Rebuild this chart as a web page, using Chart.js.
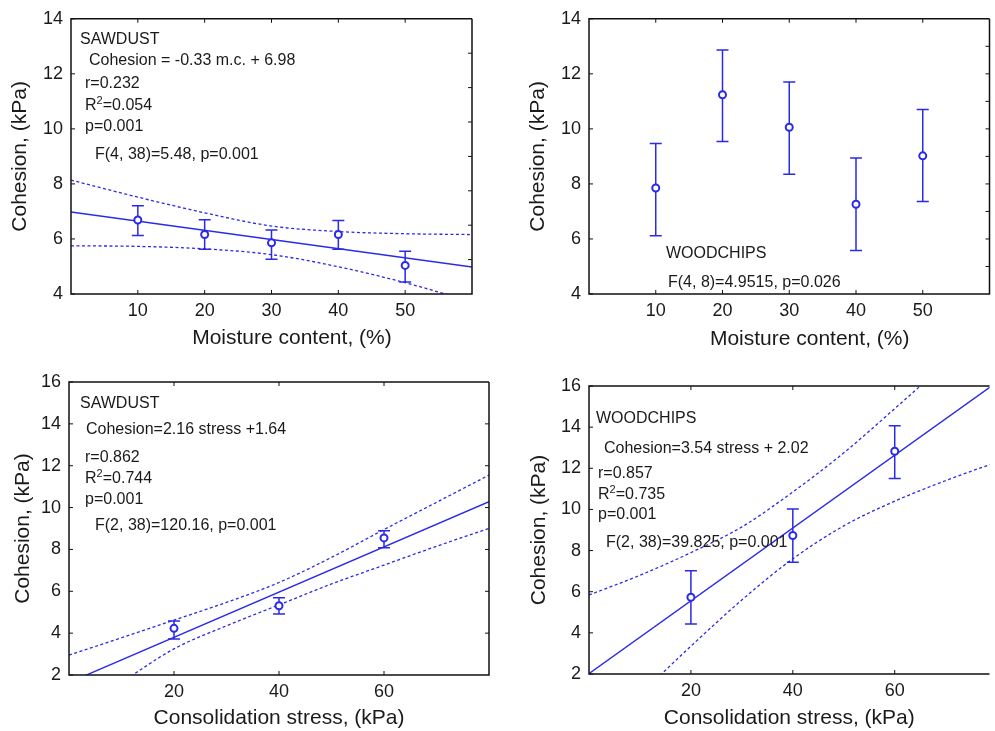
<!DOCTYPE html>
<html>
<head>
<meta charset="utf-8">
<script src="https://cdn.jsdelivr.net/npm/chart.js@4.4.0/dist/chart.umd.min.js"></script>
<style>
  body { margin: 0; background: #fff; width: 995px; height: 731px; position: relative; overflow: hidden;
         font-family: "Liberation Sans", Arial, sans-serif; }
  .box { position: absolute; }
  .note { position: absolute; font-size: 16px; line-height: 18px; color: #1a1a1a; white-space: nowrap; }
  .note sup { font-size: 11px; line-height: 0; vertical-align: 6px; }
</style>
</head>
<body>

<div class="box" style="left:0;top:0"><canvas id="c1" width="497" height="360"></canvas></div>
<div class="box" style="left:518px;top:0"><canvas id="c2" width="477" height="360"></canvas></div>
<div class="box" style="left:0;top:362px"><canvas id="c3" width="497" height="369"></canvas></div>
<div class="box" style="left:518px;top:362px"><canvas id="c4" width="477" height="369"></canvas></div>

<!-- top left -->
<div class="note" style="left:80px;top:30px">SAWDUST</div>
<div class="note" style="left:89px;top:51px">Cohesion = -0.33 m.c. + 6.98</div>
<div class="note" style="left:85px;top:74px">r=0.232</div>
<div class="note" style="left:85px;top:96px">R<sup>2</sup>=0.054</div>
<div class="note" style="left:85px;top:117px">p=0.001</div>
<div class="note" style="left:95px;top:145px">F(4, 38)=5.48, p=0.001</div>
<!-- top right -->
<div class="note" style="left:666px;top:244px">WOODCHIPS</div>
<div class="note" style="left:668px;top:273px">F(4, 8)=4.9515, p=0.026</div>
<!-- bottom left -->
<div class="note" style="left:80px;top:394px">SAWDUST</div>
<div class="note" style="left:86px;top:420px">Cohesion=2.16 stress +1.64</div>
<div class="note" style="left:85px;top:448px">r=0.862</div>
<div class="note" style="left:85px;top:469px">R<sup>2</sup>=0.744</div>
<div class="note" style="left:85px;top:490px">p=0.001</div>
<div class="note" style="left:95px;top:516px">F(2, 38)=120.16, p=0.001</div>
<!-- bottom right -->
<div class="note" style="left:596px;top:409px">WOODCHIPS</div>
<div class="note" style="left:604px;top:439px">Cohesion=3.54 stress + 2.02</div>
<div class="note" style="left:598px;top:464px">r=0.857</div>
<div class="note" style="left:598px;top:485px">R<sup>2</sup>=0.735</div>
<div class="note" style="left:598px;top:505px">p=0.001</div>
<div class="note" style="left:606px;top:533px">F(2, 38)=39.825, p=0.001</div>

<script>
// ---- moisture content panels (top row) ----
var moisture = [10, 20, 30, 40, 50];
var moistureTicks = [10, 20, 30, 40, 50];

var sawMc = [6.69, 6.16, 5.86, 6.16, 5.04];
var sawMcLow = [6.13, 5.63, 5.26, 5.63, 4.44];
var sawMcHigh = [7.21, 6.70, 6.33, 6.67, 5.55];
var sawMcFitX = [0, 60];
var sawMcFitY = [6.98, 4.98];
var sawMcBandX = [0, 10, 20, 30, 40, 50, 60];
var sawMcUpper = [8.14, 7.52, 6.95, 6.47, 6.27, 6.19, 6.16];
var sawMcLower = [5.75, 5.73, 5.64, 5.43, 4.99, 4.41, 3.72];

var chipMc = [7.85, 11.24, 10.06, 7.26, 9.02];
var chipMcLow = [6.12, 9.54, 8.35, 5.58, 7.36];
var chipMcHigh = [9.47, 12.87, 11.70, 8.94, 10.70];

// ---- consolidation stress panels (bottom row) ----
var stress = [20, 40, 60];
var stressTicks = [20, 40, 60];

var sawSt = [4.23, 5.31, 8.55];
var sawStLow = [3.72, 4.91, 8.08];
var sawStHigh = [4.58, 5.69, 8.89];
var sawStFitX = [0, 80];
var sawStFitY = [1.64, 10.28];
var sawStUpperX = [0, 10, 20, 30, 40, 50, 60, 70, 80];
var sawStUpper = [2.95, 3.78, 4.62, 5.47, 6.42, 7.62, 8.95, 10.25, 11.55];
var sawStLowerX = [10, 20, 30, 40, 50, 60, 70, 80];
var sawStLower = [1.65, 3.25, 4.35, 5.35, 6.35, 7.25, 8.15, 9.00];

var chipSt = [5.73, 8.73, 12.83];
var chipStLow = [4.43, 7.43, 11.50];
var chipStHigh = [7.02, 10.02, 14.07];
var chipStFitX = [0, 80];
var chipStFitY = [2.02, 16.18];
var chipStUpperX = [0, 10, 20, 30, 40, 50, 60, 70];
var chipStUpper = [5.84, 6.80, 7.90, 9.15, 10.85, 12.75, 14.90, 17.10];
var chipStLowerX = [10, 20, 30, 40, 50, 60, 70, 80];
var chipStLower = [1.00, 3.35, 5.60, 7.60, 9.20, 10.40, 11.40, 12.30];

// minor ticks on the right hand frame
var rightTicks1 = [5.25, 6.5, 7.75, 9, 10.25, 11.5, 12.75];
var rightTicks2 = [5, 6, 7, 8, 9, 10, 11, 12, 13];
var rightTicks3 = [4, 6, 8, 10, 12, 14];

var BLUE = '#2a2ae8';
var INK = '#1a1a1a';
Chart.defaults.font.family = '"Liberation Sans", Arial, sans-serif';
Chart.defaults.color = INK;

function pts(xs, ys) {
  return xs.map(function (v, i) { return { x: v, y: ys[i] }; });
}

// box round the plot + small inward ticks
var frame = {
  id: 'frame',
  afterDraw: function (chart) {
    var o = chart.options.plugins.frame;
    var a = chart.chartArea, ctx = chart.ctx, x = chart.scales.x, y = chart.scales.y;
    ctx.save();
    ctx.strokeStyle = '#111';
    ctx.lineWidth = 1.5;
    ctx.beginPath();
    ctx.moveTo(a.right, a.top);
    ctx.lineTo(a.left, a.top);
    ctx.lineTo(a.left, a.bottom);
    ctx.lineTo(a.right, a.bottom);
    if (o.rightSide) ctx.lineTo(a.right, a.top);
    ctx.stroke();
    ctx.lineWidth = 1;
    ctx.beginPath();
    x.ticks.forEach(function (t) {
      var px = x.getPixelForValue(t.value);
      ctx.moveTo(px, a.bottom); ctx.lineTo(px, a.bottom - 4);
      ctx.moveTo(px, a.top); ctx.lineTo(px, a.top + 4);
    });
    y.ticks.forEach(function (t) {
      var py = y.getPixelForValue(t.value);
      ctx.moveTo(a.left, py); ctx.lineTo(a.left + 4, py);
    });
    (o.rightTicks || []).forEach(function (v) {
      var py = y.getPixelForValue(v);
      ctx.moveTo(a.right, py); ctx.lineTo(a.right - 4, py);
    });
    ctx.stroke();
    ctx.restore();
  }
};

// vertical error bars with caps, taken from ds.low / ds.high
var errorBars = {
  id: 'errorBars',
  beforeDatasetsDraw: function (chart) {
    var ctx = chart.ctx, x = chart.scales.x, y = chart.scales.y;
    chart.data.datasets.forEach(function (ds) {
      if (!ds.low) return;
      ctx.save();
      ctx.strokeStyle = BLUE;
      ctx.lineWidth = 1.5;
      ctx.beginPath();
      ds.data.forEach(function (p, i) {
        var px = x.getPixelForValue(p.x);
        var lo = y.getPixelForValue(ds.low[i]);
        var hi = y.getPixelForValue(ds.high[i]);
        ctx.moveTo(px, lo); ctx.lineTo(px, hi);
        ctx.moveTo(px - 6, lo); ctx.lineTo(px + 6, lo);
        ctx.moveTo(px - 6, hi); ctx.lineTo(px + 6, hi);
      });
      ctx.stroke();
      ctx.restore();
    });
  }
};

function makePanel(id, p) {
  var sets = [{
    data: pts(p.xs, p.mean), low: p.low, high: p.high,
    showLine: false, pointRadius: 3.5, pointHoverRadius: 3.5, pointBorderWidth: 2,
    pointBorderColor: BLUE, pointBackgroundColor: '#fff'
  }];
  if (p.fit) {
    sets.push({ data: pts(p.fit[0], p.fit[1]), showLine: true, borderColor: BLUE, borderWidth: 1.4, pointRadius: 0 });
    sets.push({ data: pts(p.upper[0], p.upper[1]), showLine: true, borderColor: BLUE, borderWidth: 1.3,
                borderDash: [3, 2.5], pointRadius: 0, cubicInterpolationMode: 'monotone' });
    sets.push({ data: pts(p.lower[0], p.lower[1]), showLine: true, borderColor: BLUE, borderWidth: 1.3,
                borderDash: [3, 2.5], pointRadius: 0, cubicInterpolationMode: 'monotone' });
  }

  return new Chart(document.getElementById(id), {
    type: 'scatter',
    data: { datasets: sets },
    options: {
      responsive: false,
      animation: false,
      events: [],
      layout: { padding: { left: 0, top: p.padTop, right: p.padRight, bottom: 0 } },
      plugins: {
        legend: { display: false },
        tooltip: { enabled: false },
        frame: { rightTicks: p.rightTicks, rightSide: p.rightSide }
      },
      scales: {
        x: {
          type: 'linear', min: p.xMin, max: p.xMax,
          afterBuildTicks: function (s) { s.ticks = p.xTicks.map(function (v) { return { value: v }; }); },
          afterFit: function (s) { s.height = p.xHeight; },
          grid: { display: false, drawTicks: false },
          border: { display: false },
          ticks: { autoSkip: false, maxRotation: 0, padding: 6, color: INK, font: { size: 18 } },
          title: { display: true, text: p.xTitle, color: INK, font: { size: 21 },
                   padding: { top: 0, bottom: p.xTitlePad } }
        },
        y: {
          type: 'linear', min: p.yMin, max: p.yMax,
          afterFit: function (s) { s.width = p.yWidth; },
          grid: { display: false, drawTicks: false },
          border: { display: false },
          ticks: { stepSize: 2, padding: 8, color: INK, font: { size: 18 } },
          title: { display: true, text: 'Cohesion, (kPa)', color: INK, font: { size: 21 },
                   padding: { top: p.yTitlePad, bottom: 0 } }
        }
      }
    },
    plugins: [frame, errorBars]
  });
}

makePanel('c1', {
  xs: moisture, mean: sawMc, low: sawMcLow, high: sawMcHigh,
  fit: [sawMcFitX, sawMcFitY], upper: [sawMcBandX, sawMcUpper], lower: [sawMcBandX, sawMcLower],
  xMin: 0, xMax: 60, xTicks: moistureTicks, yMin: 4, yMax: 14,
  xTitle: '       Moisture content, (%)',
  padTop: 16, padRight: 25, xHeight: 66, yWidth: 71, xTitlePad: 9, yTitlePad: 7.4,
  rightTicks: rightTicks1, rightSide: true
});

makePanel('c2', {
  xs: moisture, mean: chipMc, low: chipMcLow, high: chipMcHigh,
  xMin: 0, xMax: 60, xTicks: moistureTicks, yMin: 4, yMax: 14,
  xTitle: '       Moisture content, (%)',
  padTop: 16, padRight: 3, xHeight: 66, yWidth: 71, xTitlePad: 8, yTitlePad: 7.4,
  rightTicks: rightTicks2, rightSide: true
});

makePanel('c3', {
  xs: stress, mean: sawSt, low: sawStLow, high: sawStHigh,
  fit: [sawStFitX, sawStFitY], upper: [sawStUpperX, sawStUpper], lower: [sawStLowerX, sawStLower],
  xMin: 0, xMax: 80, xTicks: stressTicks, yMin: 2, yMax: 16,
  xTitle: 'Consolidation stress, (kPa)',
  padTop: 20, padRight: 8, xHeight: 56, yWidth: 69, xTitlePad: 0, yTitlePad: 10.7,
  rightTicks: rightTicks3, rightSide: true
});

makePanel('c4', {
  xs: stress, mean: chipSt, low: chipStLow, high: chipStHigh,
  fit: [chipStFitX, chipStFitY], upper: [chipStUpperX, chipStUpper], lower: [chipStLowerX, chipStLower],
  xMin: 0, xMax: 78.6, xTicks: stressTicks, yMin: 2, yMax: 16,
  xTitle: 'Consolidation stress, (kPa)',
  padTop: 24, padRight: 0, xHeight: 57, yWidth: 71, xTitlePad: 0, yTitlePad: 8.7,
  rightTicks: [], rightSide: false
});
</script>
</body>
</html>
